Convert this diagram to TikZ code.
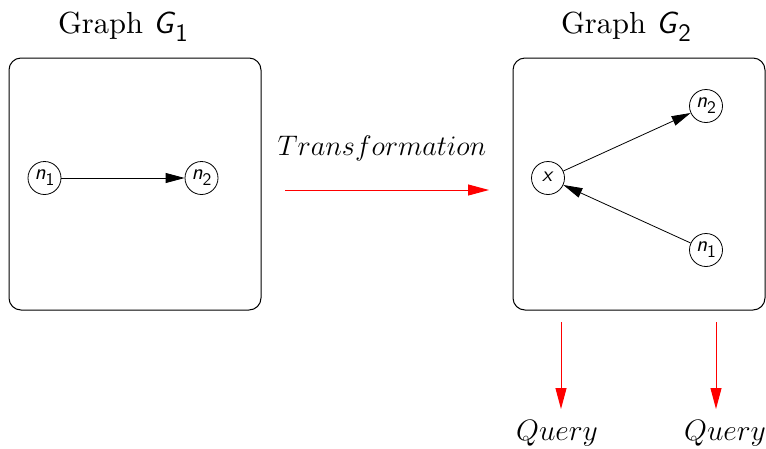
\RequirePackage{fix-cm}
\documentclass[tikz,border=0pt]{standalone}
\usepackage{graphicx}
\usetikzlibrary{arrows.meta}
% sans italic variable with a slightly lowered, slightly smaller index
\newcommand{\sfvar}[2]{{\sffamily\itshape #1\/}{\sffamily\raisebox{-0.28em}{\scalebox{0.82}{#2}}}}
% vertex label: enlarged and lifted a little above the centre
\newcommand{\vlabel}[1]{\raisebox{3pt}{\scalebox{2.15}{#1}}}
\tikzset{
  panel/.style={draw, line width=1pt, rounded corners=12pt},
  vtx/.style={draw, circle, line width=0.8pt, minimum size=33pt, inner sep=0pt},
  edge/.style={line width=0.8pt, -{Triangle[length=19pt,width=10pt]}},
  redarrow/.style={red, line width=1pt, -{Triangle[length=21pt,width=11pt]}},
  title/.style={font=\normalsize, scale=3.05, anchor=base},
  caption/.style={anchor=base},
}
\begin{document}
\begin{tikzpicture}[x=1pt, y=-1pt]
  \useasboundingbox (0,0) rectangle (766,448);

  % first graph
  \node[title] (t1) at (123,33) {Graph \sfvar{G}{1}};
  \draw[panel] (9,58) rectangle (261,310);
  \node[vtx] (a1) at (44.5,178) {\vlabel{\sfvar{n}{1}}};
  \node[vtx] (a2) at (201.5,178) {\vlabel{\sfvar{n}{2}}};
  \draw[edge] (a1) -- (a2);

  % transformation arrow
  \node[caption, font=\fontsize{28.3}{34}\selectfont] (tr) at (382,155) {$Transformation$};
  \coordinate (s0) at (285,190);
  \coordinate (s1) at (489,190);
  \draw[redarrow] (s0) -- (s1);

  % second graph
  \node[title] (t2) at (626,33) {Graph \sfvar{G}{2}};
  \draw[panel] (513,58) rectangle (765,310);
  \node[vtx] (x) at (548,178) {\vlabel{\textsf{\itshape x}}};
  \node[vtx] (b2) at (706,106) {\vlabel{\sfvar{n}{2}}};
  \node[vtx] (b1) at (706,250) {\vlabel{\sfvar{n}{1}}};
  \draw[edge] (x) -- (b2);
  \draw[edge] (b1) -- (x);

  % query arrows
  \coordinate (q1s) at (561,322);
  \coordinate (q1e) at (561,409);
  \coordinate (q2s) at (716,322);
  \coordinate (q2e) at (716,409);
  \draw[redarrow] (q1s) -- (q1e);
  \draw[redarrow] (q2s) -- (q2e);
  \node[caption, font=\fontsize{29.5}{34}\selectfont] (qa) at (557,440) {$Query$};
  \node[caption, font=\fontsize{29.5}{34}\selectfont] (qb) at (725,440) {$Query$};
\end{tikzpicture}
\end{document}
